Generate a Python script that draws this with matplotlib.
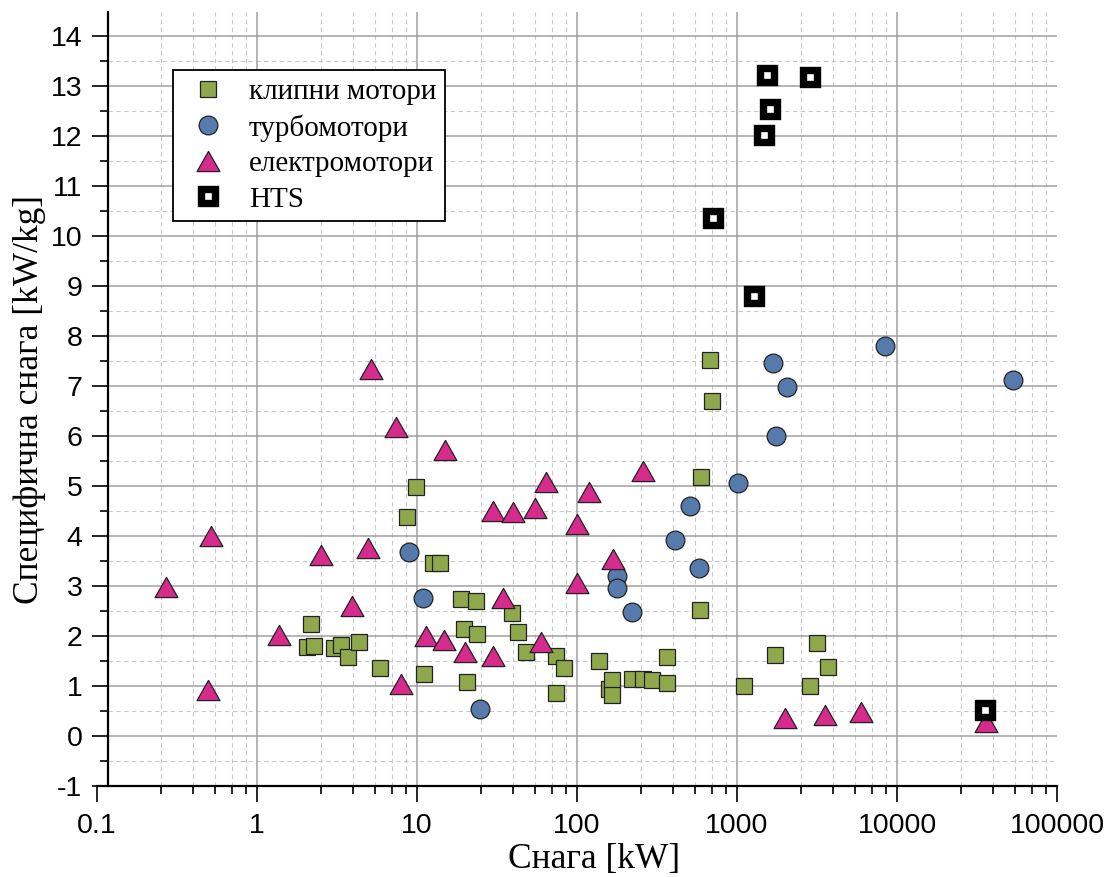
import matplotlib
matplotlib.use("Agg")
import matplotlib.pyplot as plt
from matplotlib.path import Path
from matplotlib.ticker import FixedLocator, NullFormatter
import numpy as np

# ---------------- data ----------------
piston_power = [2.18, 2.05, 2.27, 3.03, 3.35, 3.71, 4.34, 5.87, 8.66, 9.86,
                11.06, 12.6, 13.9, 18.8, 23.4, 19.7, 23.7, 20.5, 39.2, 42.8,
                48, 73.9, 83, 73.9, 137, 158, 165, 165, 221, 258,
                294, 365, 365, 588, 596, 678, 698, 1106, 1728, 2858,
                3162, 3706]
piston_spec = [2.24, 1.78, 1.80, 1.76, 1.82, 1.58, 1.88, 1.36, 4.38, 4.98,
               1.24, 3.46, 3.46, 2.74, 2.70, 2.14, 2.04, 1.08, 2.46, 2.08,
               1.68, 1.60, 1.36, 0.86, 1.50, 0.94, 1.12, 0.82, 1.14, 1.14,
               1.12, 1.58, 1.06, 2.52, 5.18, 7.52, 6.70, 1.00, 1.62, 1.00,
               1.86, 1.38]

turbo_power = [8.9, 10.9, 24.8, 178, 178, 221, 410, 508, 579, 1014,
               1679, 2054, 1753, 8414, 53100]
turbo_spec = [3.68, 2.76, 0.54, 3.20, 2.96, 2.48, 3.92, 4.60, 3.36, 5.06,
              7.46, 6.98, 6.00, 7.80, 7.12]

electric_power = [0.27, 0.516, 0.494, 1.37, 2.51, 3.92, 4.94, 5.16, 7.39, 7.94,
                  11.4, 15.0, 14.7, 20, 29.9, 29.9, 34.5, 39.8, 54.6, 59.6,
                  64.0, 100, 100, 119, 168, 258, 1995, 3548, 5957, 36000]
electric_spec = [2.98, 4.00, 0.92, 2.02, 3.62, 2.60, 3.76, 7.34, 6.18, 1.04,
                 2.00, 5.72, 1.92, 1.68, 4.50, 1.60, 2.76, 4.48, 4.56, 1.88,
                 5.08, 4.24, 3.06, 4.88, 3.54, 5.30, 0.36, 0.42, 0.48, 0.28]

hts_power = [1540, 2860, 1608, 1475, 708, 1277, 35500]
hts_spec = [13.22, 13.18, 12.54, 12.02, 10.36, 8.80, 0.52]

labels = ["клипни мотори", "турбомотори", "електромотори", "HTS"]

x_major = [0.1, 1, 10, 100, 1000, 10000, 100000]
x_major_labels = ["0.1", "1", "10", "100", "1000", "10000", "100000"]
x_minor_subs = [2.5, 4, 5.5, 7, 8.5]
y_major = list(range(-1, 15))

# ---------------- style ----------------
SANS = "Liberation Sans"
SERIF = "Liberation Serif"
plt.rcParams["font.family"] = SANS
plt.rcParams["axes.unicode_minus"] = False

W, H = 1113, 877
fig = plt.figure(figsize=(W / 100, H / 100), dpi=100)
ax = fig.add_axes([97 / W, 1 - 786 / H, 960 / W, 774 / H])
ax.set_xscale("log")
ax.set_xlim(0.1, 1e5)
ax.set_ylim(-1, 14.48)

# spines
for s in ["top", "right"]:
    ax.spines[s].set_visible(False)
left_off = 11 / 960
ax.spines["left"].set_position(("axes", left_off))
for s in ["left", "bottom"]:
    ax.spines[s].set_linewidth(1.6)
    ax.spines[s].set_color("black")

# ticks
minor_x = [m * 10.0 ** k for k in range(-1, 5) for m in x_minor_subs]
ax.xaxis.set_major_locator(FixedLocator(x_major))
ax.set_xticklabels(x_major_labels)
ax.xaxis.set_minor_locator(FixedLocator(minor_x))
ax.xaxis.set_minor_formatter(NullFormatter())
ax.yaxis.set_major_locator(FixedLocator(y_major))
ax.yaxis.set_minor_locator(FixedLocator([v + 0.5 for v in range(-1, 14)]))
ax.tick_params(which="major", direction="out", length=11.5, width=1.2,
               labelsize=20.5)
ax.tick_params(axis="x", which="major", pad=8)
ax.tick_params(axis="y", which="major", pad=7)
ax.tick_params(which="minor", direction="out", length=5.8, width=1.2)
for lab in ax.get_xticklabels() + ax.get_yticklabels():
    lab.set_fontfamily(SANS)

# grid (drawn from tick positions)
major_grid = dict(color="#a0a0a0", lw=1.1, zorder=0.5)
minor_grid = dict(color="#c8c8c8", lw=0.8, ls=(0, (4, 3)), zorder=0.4)
for v in y_major[1:]:
    ax.axhline(v, xmin=left_off, xmax=1, **major_grid)
for v in range(-1, 14):
    ax.axhline(v + 0.5, xmin=left_off, xmax=1, **minor_grid)
for v in x_major[1:-1]:
    ax.axvline(v, **major_grid)
for v in minor_x:
    ax.axvline(v, **minor_grid)

# markers
tri = Path([(0, 0.88), (-1, -0.88), (1, -0.88), (0, 0.88)],
           [Path.MOVETO, Path.LINETO, Path.LINETO, Path.CLOSEPOLY])
edge = "#222222"
h1, = ax.plot(piston_power, piston_spec, ls="none", marker="s", ms=12,
              mfc="#8ea84b", mec=edge, mew=0.9, zorder=3, label=labels[0])
h2, = ax.plot(turbo_power, turbo_spec, ls="none", marker="o", ms=13.5,
              mfc="#557aab", mec=edge, mew=0.9, zorder=4, label=labels[1])
h3, = ax.plot(electric_power, electric_spec, ls="none", marker=tri, ms=16.5,
              mfc="#d62a8c", mec=edge, mew=0.9, zorder=5, label=labels[2])
h4, = ax.plot(hts_power, hts_spec, ls="none", marker="s", ms=9.6,
              mfc="white", mec="black", mew=5.3, zorder=6, label=labels[3])

# labels
ax.set_xlabel("Снага [kW]", fontfamily=SERIF, fontsize=25.5)
ax.xaxis.set_label_coords(0.518, -0.073)
ax.set_ylabel("Специфична снага [kW/kg]", fontfamily=SERIF, fontsize=25.5)
ax.yaxis.set_label_coords(-0.053, 0.5)

leg = ax.legend(handles=[h1, h2, h3, h4], loc="upper left",
                bbox_to_anchor=(173 / W, 1 - 70 / H), bbox_transform=fig.transFigure,
                prop={"family": SERIF, "size": 21}, frameon=True, fancybox=False,
                framealpha=1, edgecolor="black", borderpad=0.3, handlelength=1.8,
                handletextpad=0.5, labelspacing=0.31, borderaxespad=0)
leg.get_frame().set_linewidth(1.3)
leg.set_zorder(10)

fig.savefig("out.png", dpi=100)
